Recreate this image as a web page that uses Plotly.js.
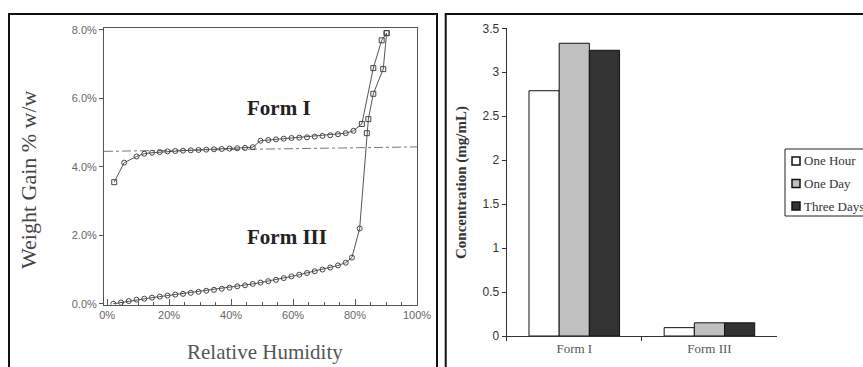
<!DOCTYPE html>
<html>
<head>
<meta charset="utf-8">
<script src="https://cdn.plot.ly/plotly-3.0.1.min.js"></script>
<style>html,body{margin:0;padding:0;background:#fff;}#chart{width:863px;height:367px;}</style>
</head>
<body>
<div id="chart"></div>
<script>
// ---- Left panel: water sorption isotherms ----
const formIRH = [2.3, 5.5, 9.5, 12, 14.5, 17, 19.5, 22, 24.5, 27, 29.5, 32, 34.5, 37, 39.5, 42, 44.5, 47, 49.5, 52, 54.5, 57, 59.5, 62, 64.5, 67, 69.5, 72, 74.5, 77, 79.5, 82.2, 85.9, 88.6, 90.2];
const formIGain = [3.55, 4.12, 4.3, 4.38, 4.41, 4.43, 4.45, 4.46, 4.47, 4.48, 4.49, 4.5, 4.51, 4.52, 4.53, 4.54, 4.55, 4.57, 4.76, 4.78, 4.8, 4.82, 4.84, 4.85, 4.86, 4.88, 4.9, 4.92, 4.95, 4.98, 5.05, 5.25, 6.88, 7.69, 7.9];
const formIIIRH = [2, 4.5, 7, 9.5, 12, 14.5, 17, 19.5, 22, 24.5, 27, 29.5, 32, 34.5, 37, 39.5, 42, 44.5, 47, 49.5, 52, 54.5, 57, 59.5, 62, 64.5, 67, 69.5, 72, 74.5, 77, 79, 81.5, 83.8, 84.3, 85.9, 89.1, 90.2];
const formIIIGain = [0.0, 0.04, 0.08, 0.12, 0.15, 0.18, 0.21, 0.24, 0.27, 0.29, 0.32, 0.35, 0.38, 0.41, 0.44, 0.47, 0.51, 0.54, 0.58, 0.62, 0.66, 0.7, 0.75, 0.8, 0.85, 0.9, 0.95, 1.0, 1.06, 1.12, 1.2, 1.35, 2.2, 4.98, 5.39, 6.13, 6.85, 7.9];
const refLineRH = [-1, 100];
const refLineGain = [4.45, 4.58];
const rhTickVals = [0, 20, 40, 60, 80, 100];
const rhTickText = ['0%', '20%', '40%', '60%', '80%', '100%'];
const gainTickVals = [0, 2, 4, 6, 8];
const gainTickText = ['0.0%', '2.0%', '4.0%', '6.0%', '8.0%'];

// ---- Right panel: solubility bars ----
const forms = ['Form I', 'Form III'];
const seriesNames = ['One Hour', 'One Day', 'Three Days'];
const oneHour = [2.79, 0.095];
const oneDay = [3.33, 0.15];
const threeDays = [3.25, 0.15];
const concTickVals = [0, 0.5, 1, 1.5, 2, 2.5, 3, 3.5];
const concTickText = ['0', '0.5', '1', '1.5', '2', '2.5', '3', '3.5'];

const W = 863, H = 367;
const px = v => v / W;
const py = v => 1 - v / H;

const lineCol = '#555';
const markerCol = '#444';
const serif = "'Liberation Serif', 'Times New Roman', serif";
const barColors = ['#ffffff', '#c0c0c0', '#333333'];
const barValues = [oneHour, oneDay, threeDays];

const traces = [
  {x: refLineRH, y: refLineGain, type: 'scatter', mode: 'lines', xaxis: 'x', yaxis: 'y',
   line: {color: '#777', width: 1, dash: 'dashdot'}, showlegend: false, hoverinfo: 'skip'},
  {x: formIRH, y: formIGain, type: 'scatter', mode: 'lines+markers', xaxis: 'x', yaxis: 'y',
   line: {color: lineCol, width: 1},
   marker: {symbol: formIRH.map((v, i) => (i === 0 || i >= formIRH.length - 4) ? 'square-open' : 'circle-open'), size: 5, color: markerCol, line: {width: 1, color: markerCol}},
   showlegend: false},
  {x: formIIIRH, y: formIIIGain, type: 'scatter', mode: 'lines+markers', xaxis: 'x', yaxis: 'y',
   line: {color: lineCol, width: 1},
   marker: {symbol: formIIIRH.map((v, i) => (i >= formIIIRH.length - 5) ? 'square-open' : 'circle-open'), size: 5, color: markerCol, line: {width: 1, color: markerCol}},
   showlegend: false}
];
seriesNames.forEach((name, i) => {
  traces.push({x: forms, y: barValues[i], type: 'bar', name: name, xaxis: 'x2', yaxis: 'y2',
    marker: {color: barColors[i], line: {color: '#111', width: 1}}, showlegend: false});
});

const tickFont = {family: "'Liberation Sans', Arial, sans-serif", size: 11, color: '#666'};

// Legend drawn as a box with swatches (the reference legend runs to the picture's edge)
const legendShapes = [
  {type: 'rect', xref: 'paper', yref: 'paper', x0: px(785), x1: px(870), y0: py(216), y1: py(149),
   line: {color: '#222', width: 1}, fillcolor: '#fff'}
];
const legendRowY = [161, 183.5, 206];
const legendAnn = [];
seriesNames.forEach((name, i) => {
  legendShapes.push({type: 'rect', xref: 'paper', yref: 'paper',
    x0: px(792), x1: px(800), y0: py(legendRowY[i] + 4), y1: py(legendRowY[i] - 4),
    fillcolor: barColors[i], line: {color: '#111', width: 1.5}});
  legendAnn.push({text: name, x: px(802), y: py(legendRowY[i]), xref: 'paper', yref: 'paper',
    xanchor: 'left', yanchor: 'middle', showarrow: false,
    font: {family: serif, size: 13, color: '#333'}});
});

const layout = {
  width: W, height: H,
  margin: {l: 0, r: 0, t: 0, b: 0, pad: 0, autoexpand: false},
  paper_bgcolor: '#fff', plot_bgcolor: 'rgba(0,0,0,0)',
  showlegend: false,
  barmode: 'group', bargap: 0.33, bargroupgap: 0,
  xaxis: {
    domain: [px(104), px(417)], range: [-1, 100], anchor: 'y',
    tickvals: rhTickVals, ticktext: rhTickText, ticks: 'inside', ticklen: 6, tickcolor: lineCol,
    minor: {ticks: 'inside', dtick: 5, ticklen: 3, tickcolor: lineCol},
    showline: true, linecolor: lineCol, linewidth: 1, mirror: true,
    showgrid: false, zeroline: false, tickfont: tickFont, automargin: false
  },
  yaxis: {
    domain: [py(304.5), py(28)], range: [-0.02, 8.05], anchor: 'x',
    tickvals: gainTickVals, ticktext: gainTickText, ticks: 'outside', ticklen: 4, tickcolor: lineCol,
    showline: true, linecolor: lineCol, linewidth: 1, mirror: true,
    showgrid: false, zeroline: false, tickfont: tickFont, automargin: false
  },
  xaxis2: {
    domain: [px(506.7), px(777)], anchor: 'y2', type: 'category',
    tickson: 'boundaries', ticks: 'outside', ticklen: 4, tickcolor: '#333',
    showline: true, linecolor: '#333', linewidth: 1,
    showgrid: false, zeroline: false, automargin: false,
    tickfont: {family: serif, size: 13, color: '#555'}
  },
  yaxis2: {
    domain: [py(336), py(28.3)], range: [0, 3.5], anchor: 'x2',
    tickvals: concTickVals, ticktext: concTickText, ticks: 'outside', ticklen: 4, tickcolor: '#333',
    showline: true, linecolor: '#333', linewidth: 1,
    showgrid: false, zeroline: false, automargin: false,
    tickfont: {family: "'Liberation Sans', Arial, sans-serif", size: 12, color: '#333'}
  },
  annotations: [
    {text: '<b>Form I</b>', x: 55.5, y: 5.72, xref: 'x', yref: 'y', showarrow: false,
     font: {family: serif, size: 21, color: '#222'}},
    {text: '<b>Form III</b>', x: 58, y: 1.96, xref: 'x', yref: 'y', showarrow: false,
     font: {family: serif, size: 21, color: '#222'}},
    {text: 'Weight Gain % w/w', x: px(28), y: py(180), xref: 'paper', yref: 'paper', textangle: -90, showarrow: false,
     xanchor: 'center', yanchor: 'middle',
     font: {family: serif, size: 22, color: '#444'}},
    {text: 'Relative Humidity', x: px(265), y: py(352), xref: 'paper', yref: 'paper', showarrow: false,
     xanchor: 'center', yanchor: 'middle',
     font: {family: serif, size: 21, color: '#555'}},
    {text: '<b>Concentration (mg/mL)</b>', x: px(462), y: py(183), xref: 'paper', yref: 'paper', textangle: -90, showarrow: false,
     xanchor: 'center', yanchor: 'middle',
     font: {family: serif, size: 15, color: '#333'}}
  ].concat(legendAnn),
  shapes: [
    {type: 'rect', xref: 'paper', yref: 'paper', x0: px(9), x1: px(437), y0: -0.1, y1: py(14), line: {color: '#111', width: 2}},
    {type: 'rect', xref: 'paper', yref: 'paper', x0: px(445.7), x1: 1.1, y0: -0.1, y1: py(14), line: {color: '#111', width: 2}}
  ].concat(legendShapes)
};

Plotly.newPlot('chart', traces, layout, {displayModeBar: false, staticPlot: true});
</script>
</body>
</html>
